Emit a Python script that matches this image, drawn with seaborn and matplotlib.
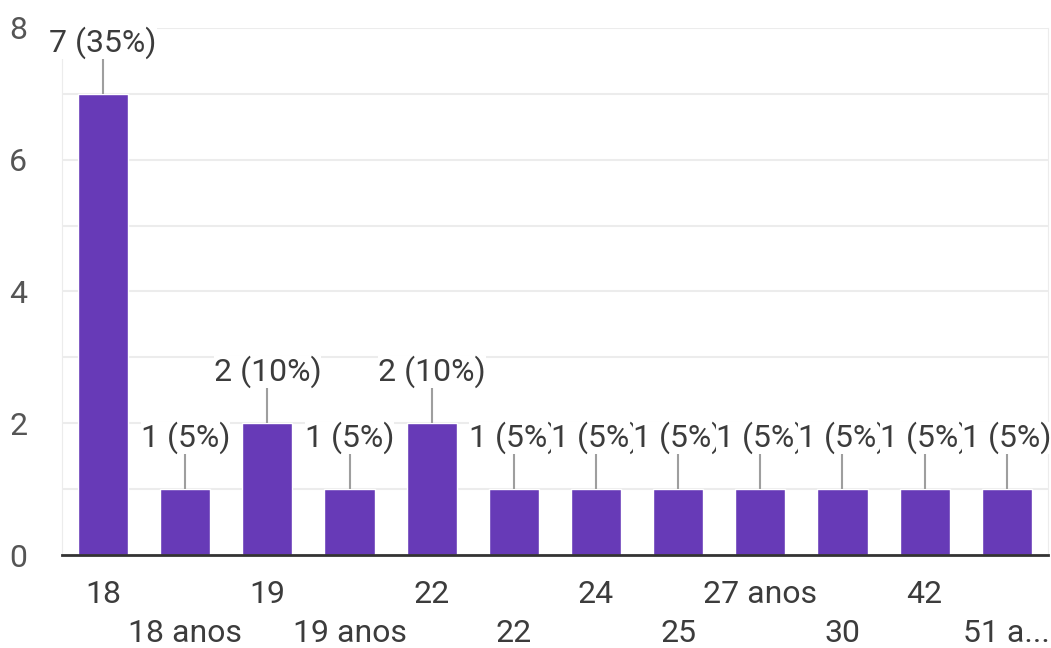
import numpy as np
import pandas as pd
import seaborn as sns
import matplotlib.pyplot as plt

# dados (respostas por idade)
idades = ["18", "18 anos", "19", "19 anos", "22", "22", "24", "25", "27 anos", "30", "42", "51 a..."]
contagens = [7, 1, 2, 1, 2, 1, 1, 1, 1, 1, 1, 1]
total = 20

roxo = "#673ab7"
cinza_txt = "#3c3c3c"

sns.set_style("white")
plt.rcParams['font.family'] = ['Roboto', 'DejaVu Sans']

df = pd.DataFrame({"pos": range(len(idades)), "n": contagens})

fig = plt.figure(figsize=(10.51, 6.48), dpi=100)
ax = fig.add_axes([0.059, 0.1435, 0.938, 0.8135])

sns.barplot(data=df, x="pos", y="n", color=roxo, width=0.61, saturation=1, ax=ax)

ax.set_xlim(-0.5, len(idades) - 0.5)
ax.set_ylim(0, 8)
ax.set_yticks([0, 2, 4, 6, 8])
ax.set_yticks([1, 3, 5, 7], minor=True)
ax.grid(axis="y", which="both", color="#ececec", linewidth=1.5)
ax.set_axisbelow(True)

# rotulos do eixo x em duas linhas alternadas
rotulos = [t if i % 2 == 0 else "\n" + t for i, t in enumerate(idades)]
ax.set_xticks(range(len(idades)))
ax.set_xticklabels(rotulos, fontsize=23, color=cinza_txt, linespacing=1.45)
ax.tick_params(axis="x", length=0, pad=18)
ax.tick_params(axis="y", length=0, pad=25, labelsize=23, labelcolor="#555555")

ax.set_xlabel("")
ax.set_ylabel("")

ax.spines["top"].set_visible(False)
ax.spines["left"].set_color("#ececec")
ax.spines["right"].set_color("#ececec")
ax.spines["bottom"].set_color("#333333")
ax.spines["bottom"].set_linewidth(2)

# rotulos de valor com linha de chamada
for i, n in enumerate(contagens):
    ax.vlines(i, n, n + 0.53, color="#9e9e9e", linewidth=1.5)
    pct = round(n / total * 100)
    ax.text(i, n + 0.53, f"{n} ({pct}%)", ha="center", va="bottom", fontsize=23,
            color=cinza_txt, bbox=dict(facecolor="white", edgecolor="none", pad=0),
            clip_on=False)

fig.savefig("out.png", dpi=100)
